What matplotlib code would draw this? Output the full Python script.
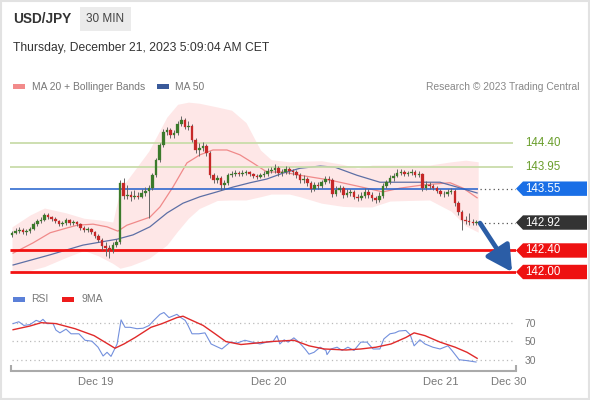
import numpy as np
import matplotlib
matplotlib.use("Agg")
import matplotlib.pyplot as plt
from matplotlib.patches import Polygon, Rectangle
from matplotlib.transforms import blended_transform_factory

plt.rcParams['font.family'] = ['Liberation Sans', 'DejaVu Sans']

# --- data (30 min candles, index 0 = first candle) ---
first_open = 142.69
closes = [
    142.73, 142.76, 142.78, 142.74, 142.76, 142.80, 142.89, 142.95, 142.97, 143.06,
    143.02, 142.99, 142.95, 142.89, 142.91, 142.97, 142.91, 142.92, 142.89, 142.82,
    142.78, 142.79, 142.74, 142.67, 142.60, 142.48, 142.45, 142.41, 142.50, 142.56,
    143.66, 143.41, 143.43, 143.40, 143.41, 143.40, 143.47, 143.51, 143.56, 143.80,
    144.08, 144.36, 144.60, 144.64, 144.55, 144.59, 144.75, 144.83, 144.70, 144.72,
    144.46, 144.27, 144.31, 144.34, 144.21, 143.80, 143.71, 143.75, 143.62, 143.66,
    143.80, 143.82, 143.84, 143.82, 143.84, 143.86, 143.82, 143.79, 143.77, 143.80,
    143.82, 143.88, 143.90, 143.93, 143.84, 143.86, 143.92, 143.88, 143.86, 143.80,
    143.71, 143.73, 143.66, 143.55, 143.62, 143.60, 143.67, 143.73, 143.71, 143.45,
    143.53, 143.56, 143.43, 143.47, 143.49, 143.40, 143.38, 143.41, 143.49, 143.43,
    143.38, 143.34, 143.41, 143.60, 143.67, 143.75, 143.79, 143.84, 143.86, 143.82,
    143.84, 143.86, 143.80, 143.82, 143.56, 143.62, 143.60, 143.56, 143.51, 143.45,
    143.45, 143.49, 143.51, 143.28, 143.12, 142.97, 142.95, 142.93, 142.91, 142.92,
]
highs = [
    142.77, 142.82, 142.83, 142.82, 142.80, 142.84, 142.93, 142.99, 143.03, 143.10,
    143.09, 143.05, 143.02, 142.97, 142.95, 143.00, 142.99, 142.96, 142.95, 142.92,
    142.85, 142.83, 142.82, 142.77, 142.70, 142.63, 142.55, 142.50, 142.55, 142.62,
    143.72, 143.75, 143.62, 143.50, 143.52, 143.48, 143.55, 143.58, 143.62, 143.85,
    144.12, 144.40, 144.66, 144.70, 144.68, 144.65, 144.80, 144.90, 144.86, 144.80,
    144.76, 144.50, 144.40, 144.42, 144.38, 144.25, 143.85, 143.80, 143.78, 143.72,
    143.84, 143.87, 143.90, 143.88, 143.89, 143.90, 143.88, 143.85, 143.83, 143.85,
    143.87, 143.93, 143.96, 144.00, 143.97, 143.92, 143.97, 143.95, 143.92, 143.90,
    143.84, 143.80, 143.77, 143.70, 143.68, 143.68, 143.72, 143.78, 143.78, 143.74,
    143.60, 143.62, 143.60, 143.55, 143.55, 143.52, 143.45, 143.48, 143.56, 143.55,
    143.48, 143.42, 143.48, 143.66, 143.72, 143.80, 143.85, 143.92, 143.92, 143.90,
    143.88, 143.92, 143.90, 143.88, 143.85, 143.70, 143.67, 143.64, 143.60, 143.55,
    143.50, 143.54, 143.56, 143.55, 143.32, 143.16, 143.05, 143.10, 142.98, 142.96,
]
lows = [
    142.66, 142.70, 142.72, 142.70, 142.68, 142.73, 142.78, 142.86, 142.92, 142.94,
    142.98, 142.95, 142.91, 142.86, 142.86, 142.88, 142.88, 142.88, 142.86, 142.79,
    142.75, 142.75, 142.70, 142.64, 142.55, 142.40, 142.30, 142.26, 142.35, 142.46,
    142.52, 143.36, 143.35, 143.32, 143.36, 143.35, 143.38, 143.42, 143.00, 143.52,
    143.76, 144.04, 144.32, 144.55, 144.50, 144.50, 144.55, 144.72, 144.66, 144.65,
    144.42, 144.22, 144.15, 144.25, 144.15, 143.75, 143.66, 143.66, 143.53, 143.55,
    143.62, 143.76, 143.78, 143.78, 143.79, 143.80, 143.78, 143.75, 143.73, 143.74,
    143.77, 143.79, 143.84, 143.85, 143.78, 143.78, 143.82, 143.83, 143.80, 143.75,
    143.66, 143.66, 143.60, 143.48, 143.50, 143.55, 143.56, 143.63, 143.66, 143.40,
    143.42, 143.48, 143.38, 143.40, 143.42, 143.35, 143.32, 143.34, 143.38, 143.38,
    143.32, 143.28, 143.30, 143.38, 143.56, 143.63, 143.70, 143.76, 143.80, 143.78,
    143.78, 143.80, 143.76, 143.77, 143.50, 143.52, 143.55, 143.52, 143.47, 143.41,
    143.40, 143.42, 143.45, 143.23, 143.06, 142.78, 142.90, 142.88, 142.87, 142.88,
]
opens = [first_open] + closes[:-1]

# Bollinger bands (MA 20) sampled along the chart
band_x = [0, 5, 9, 15, 20, 24, 28, 30, 33, 38, 43, 46, 49, 52, 57, 61, 65, 69, 72,
          77, 80, 86, 92, 96, 100, 105, 110, 116, 122, 126, 129.5]
band_hi = [142.84, 143.06, 143.19, 143.10, 143.00, 142.97, 142.93, 143.53, 143.80,
           144.25, 144.88, 145.12, 145.16, 145.14, 145.07, 145.01, 144.78, 144.27,
           144.09, 144.05, 144.06, 144.07, 144.00, 143.93, 143.99, 143.99, 143.99,
           143.99, 144.05, 144.08, 144.05]
band_lo = [141.98, 142.03, 142.10, 142.27, 142.40, 142.30, 142.16, 142.07, 142.12,
           142.25, 142.50, 142.76, 143.00, 143.18, 143.33, 143.34, 143.34, 143.40,
           143.45, 143.45, 143.40, 143.28, 143.22, 143.21, 143.21, 143.32, 143.33,
           143.34, 143.13, 142.86, 142.74]

ma20_x = [0.3, 5.8, 10.6, 15.3, 18.1, 22.5, 26.4, 29.4, 31.9, 38.3, 41.1, 44.7, 48.6,
          52.2, 55.8, 59.7, 63.3, 66.9, 70.8, 75.3, 80, 88.3, 95.8, 103, 107.8,
          114.2, 121.7, 125.3, 129.2]
ma20_y = [142.35, 142.54, 142.73, 142.82, 142.87, 142.89, 142.84, 142.76, 142.87,
          143.02, 143.21, 143.58, 144.03, 144.18, 144.27, 144.27, 144.18, 144.03,
          143.86, 143.86, 143.80, 143.71, 143.60, 143.49, 143.56, 143.62, 143.66,
          143.56, 143.38]

ma50_x = [0.3, 10.6, 19.7, 29.2, 33.6, 38.3, 43.1, 47.5, 52.2, 56.9, 61.4, 66.1, 70.8,
          75.3, 80, 85.6, 89.7, 95.8, 102.2, 107.8, 118.9, 123.6, 129.2]
ma50_y = [142.13, 142.32, 142.50, 142.61, 142.69, 142.84, 143.10, 143.28, 143.40,
          143.49, 143.58, 143.66, 143.73, 143.84, 143.93, 143.97, 143.95, 143.80,
          143.67, 143.67, 143.67, 143.58, 143.47]

resistances = [144.40, 143.95]
pivot = 143.55
last_price = 142.92
supports = [142.40, 142.00]

# RSI panel
rsi_x = [0.3, 1.9, 3.3, 5.0, 6.7, 7.8, 8.6, 9.7, 11.4, 12.2, 13.3, 15.0, 16.4, 18.6,
         20.3, 22.2, 23.9, 25.3, 26.4, 27.5, 29.2, 30.3, 31.4, 32.8, 34.7, 36.4,
         38.1, 39.4, 41.1, 42.2, 43.6, 45.8, 46.9, 48.1, 48.9, 50.0, 51.9, 53.6,
         55.3, 56.4, 58.3, 60.6, 62.5, 64.7, 66.7, 68.9, 70.8, 72.5, 73.6, 74.4,
         75.6, 76.7, 78.3, 79.7, 81.4, 82.5, 83.9, 85.6, 87.2, 87.5, 88.6, 90.3,
         91.7, 93.3, 95.0, 96.9, 98.6, 100.3, 102.2, 103.3, 105.0, 106.4, 107.5,
         109.4, 110.6, 111.7, 113.3, 114.7, 116.9, 118.9, 121.1, 122.2, 124.2,
         126.4, 128.9]
rsi_y = [69, 71, 67, 68, 72.5, 71, 73.6, 69, 69, 62, 59, 63, 58, 58, 51, 50, 43.5,
         34, 38, 33.6, 47, 73, 65, 65, 63.5, 64, 67, 72.5, 79, 81, 75.5, 79, 75.5,
         72.5, 67, 58, 58, 59, 47, 45, 41.6, 49, 48, 51, 49, 47, 49, 49.6, 56, 47,
         51.5, 49, 53.6, 49, 41.6, 36, 38, 43.5, 40, 35.5, 41.6, 43.5, 40, 43.5, 40,
         49, 49, 41.6, 41.6, 52.5, 58, 59, 61, 61.6, 57, 45, 51.5, 47, 43.5, 41.6,
         45, 40, 30, 29, 27.5]
ma9_x = [0.3, 5.0, 8.1, 12.2, 17.5, 22.8, 25.8, 28.6, 31.1, 34.2, 38.6, 41.7, 45.8,
         47.5, 48.9, 53.1, 56.4, 59.4, 63.6, 67.8, 71.9, 78.3, 82.5, 86.7, 92.8,
         96.9, 101.1, 105.3, 109.4, 111.7, 114.7, 118.9, 123.1, 126.4, 129.2]
ma9_y = [62.4, 66.4, 70, 69, 63.5, 56, 49, 42.4, 47, 54, 65, 69, 75.5, 77, 74.4, 67,
         58, 49.6, 46.4, 48, 49.6, 51, 45, 41.6, 40.5, 41.6, 43.5, 47, 54, 59, 56, 49,
         43.5, 38, 31.5]
rsi_levels = [70, 50, 30]

day_ticks = [23.3, 71.4, 119.2, 138]
day_labels = ['Dec 19', 'Dec 20', 'Dec 21', 'Dec 30']

GREEN = '#3b7a2a'
RED = '#c62828'
W, H = 590, 400


def box(x0, y0, x1, y1):
    # pixel box (top-left origin) -> figure fraction rect
    return [x0 / W, 1 - y1 / H, (x1 - x0) / W, (y1 - y0) / H]


fig = plt.figure(figsize=(5.9, 4.0), dpi=100)

# ---------------- price panel ----------------
AXW = 506
ax = fig.add_axes(box(10, 100, 10 + AXW, 278))
x0, x1 = -0.56, 140.0
ax.set_xlim(x0, x1)
ax.set_ylim(141.888, 145.2)
ax.axis('off')

ax.fill_between(band_x, band_lo, band_hi, color='#fee7e7', lw=0, zorder=1)
ax.plot(ma20_x, ma20_y, color='#f08a8a', lw=0.9, zorder=2)
ax.plot(ma50_x, ma50_y, color='#5d6fa5', lw=0.9, zorder=2)

ax.hlines(resistances, x0, 139.2, color='#c9dcaa', lw=1.3, zorder=3)
ax.hlines(pivot, x0, 129.5, color='#1f5fcc', lw=1.1, zorder=3)
ax.hlines([pivot, last_price], 130, x1, color='#555555', lw=0.9,
          linestyles=(0, (1, 2.5)), zorder=3)
ax.hlines(supports, x0, x1, color='#f21212', lw=2.0, zorder=3)

idx = np.arange(len(closes))
o = np.array(opens)
c = np.array(closes)
up = c >= o
cols = np.where(up, GREEN, RED)
ax.vlines(idx, lows, highs, color='#666666', lw=0.7, zorder=4)
ax.bar(idx, np.abs(c - o) + 0.004, bottom=np.minimum(o, c), width=0.72,
       color=cols, edgecolor=cols, lw=0.2, zorder=5)

ax.annotate('', xy=(138.9, 142.00), xytext=(130.0, 142.91),
            arrowprops=dict(arrowstyle='-|>,head_width=0.6,head_length=1.1',
                            color='#2b5da6', lw=3.4, mutation_scale=14,
                            shrinkA=0, shrinkB=0),
            annotation_clip=False, zorder=6)

trans = blended_transform_factory(ax.transAxes, ax.transData)
tip, body, end = 1.0, 1 + 7 / AXW, 1 + 71 / AXW
half = 7.2 / 53.75
for lvl, col in [(pivot, '#1a6fe6'), (last_price, '#333333'),
                 (supports[0], '#ee1111'), (supports[1], '#ee1111')]:
    poly = Polygon([(tip, lvl), (body, lvl + half), (end, lvl + half),
                    (end, lvl - half), (body, lvl - half)], closed=True,
                   transform=trans, facecolor=col, edgecolor='none',
                   clip_on=False, zorder=7)
    ax.add_patch(poly)
    ax.text(1 + 9 / AXW, lvl, f'{lvl:.2f}', transform=trans, color='white',
            fontsize=8.3, va='center', ha='left', zorder=8, clip_on=False)
for lvl in resistances:
    ax.text(1 + 9 / AXW, lvl, f'{lvl:.2f}', transform=trans, color='#6a9e2c',
            fontsize=8.3, va='center', ha='left', clip_on=False)

# ---------------- RSI panel ----------------
ax2 = fig.add_axes(box(11, 305, 516, 371))
ax2.set_xlim(-0.28, 140)
ax2.set_ylim(17.8, 89.1)
ax2.set_facecolor('none')
for s in ['top', 'left', 'right']:
    ax2.spines[s].set_visible(False)
ax2.spines['bottom'].set_color('#aaaaaa')
ax2.spines['bottom'].set_linewidth(1.5)
ax2.hlines(rsi_levels, 0, 139.7, color='#bbbbbb', lw=0.9,
           linestyles=(0, (1, 2.5)))
ax2.plot(rsi_x, rsi_y, color='#7390dd', lw=0.8)
ax2.plot(ma9_x, ma9_y, color='#e02a2a', lw=1.0)
ax2.yaxis.tick_right()
ax2.set_yticks(rsi_levels)
ax2.tick_params(axis='y', length=0, pad=6, labelsize=7.5, labelcolor='#777777')
ax2.set_xticks(day_ticks, day_labels)
ax2.tick_params(axis='x', length=0, pad=4, labelsize=8, labelcolor='#777777')
ax2.set_xticks([-0.28, 140], minor=True)
ax2.tick_params(axis='x', which='minor', direction='in', length=4, width=1.5,
                color='#aaaaaa')

# ---------------- header / legends ----------------
def ftext(x, y, s, **kw):
    fig.text(x / W, 1 - y / H, s, va='center', **kw)


def frect(x0_, y0_, x1_, y1_, color):
    fig.patches.append(Rectangle((x0_ / W, 1 - y1_ / H), (x1_ - x0_) / W,
                                 (y1_ - y0_) / H, transform=fig.transFigure,
                                 facecolor=color, edgecolor='none'))


frect(80, 7, 131, 31, '#ebebeb')
ftext(13, 19, 'USD/JPY', fontsize=9.8, fontweight='bold', color='#333333')
ftext(105.5, 19, '30 MIN', fontsize=8.5, color='#444444', ha='center')
ftext(13, 48, 'Thursday, December 21, 2023 5:09:04 AM CET', fontsize=8.7,
      color='#333333')

frect(13, 84, 25, 89, '#f28b8b')
ftext(32, 86.5, 'MA 20 + Bollinger Bands', fontsize=7.4, color='#777777')
frect(157, 84, 169, 89, '#3a5a9a')
ftext(175, 86.5, 'MA 50', fontsize=7.4, color='#777777')
ftext(580, 86.5, 'Research \u00a9 2023 Trading Central', fontsize=7.4,
      color='#888888', ha='right')

frect(13, 297, 25, 302, '#5b80d8')
ftext(31, 299.5, 'RSI', fontsize=7.5, color='#777777')
frect(62, 297, 74, 302, '#ee1c1c')
ftext(81, 299.5, '9MA', fontsize=7.5, color='#777777')

fig.patches.append(Rectangle((0.001, 0.002), 0.997, 0.996, transform=fig.transFigure,
                             facecolor='none', edgecolor='#e2e2e2', lw=1.5))

fig.savefig('out.png', dpi=100)
